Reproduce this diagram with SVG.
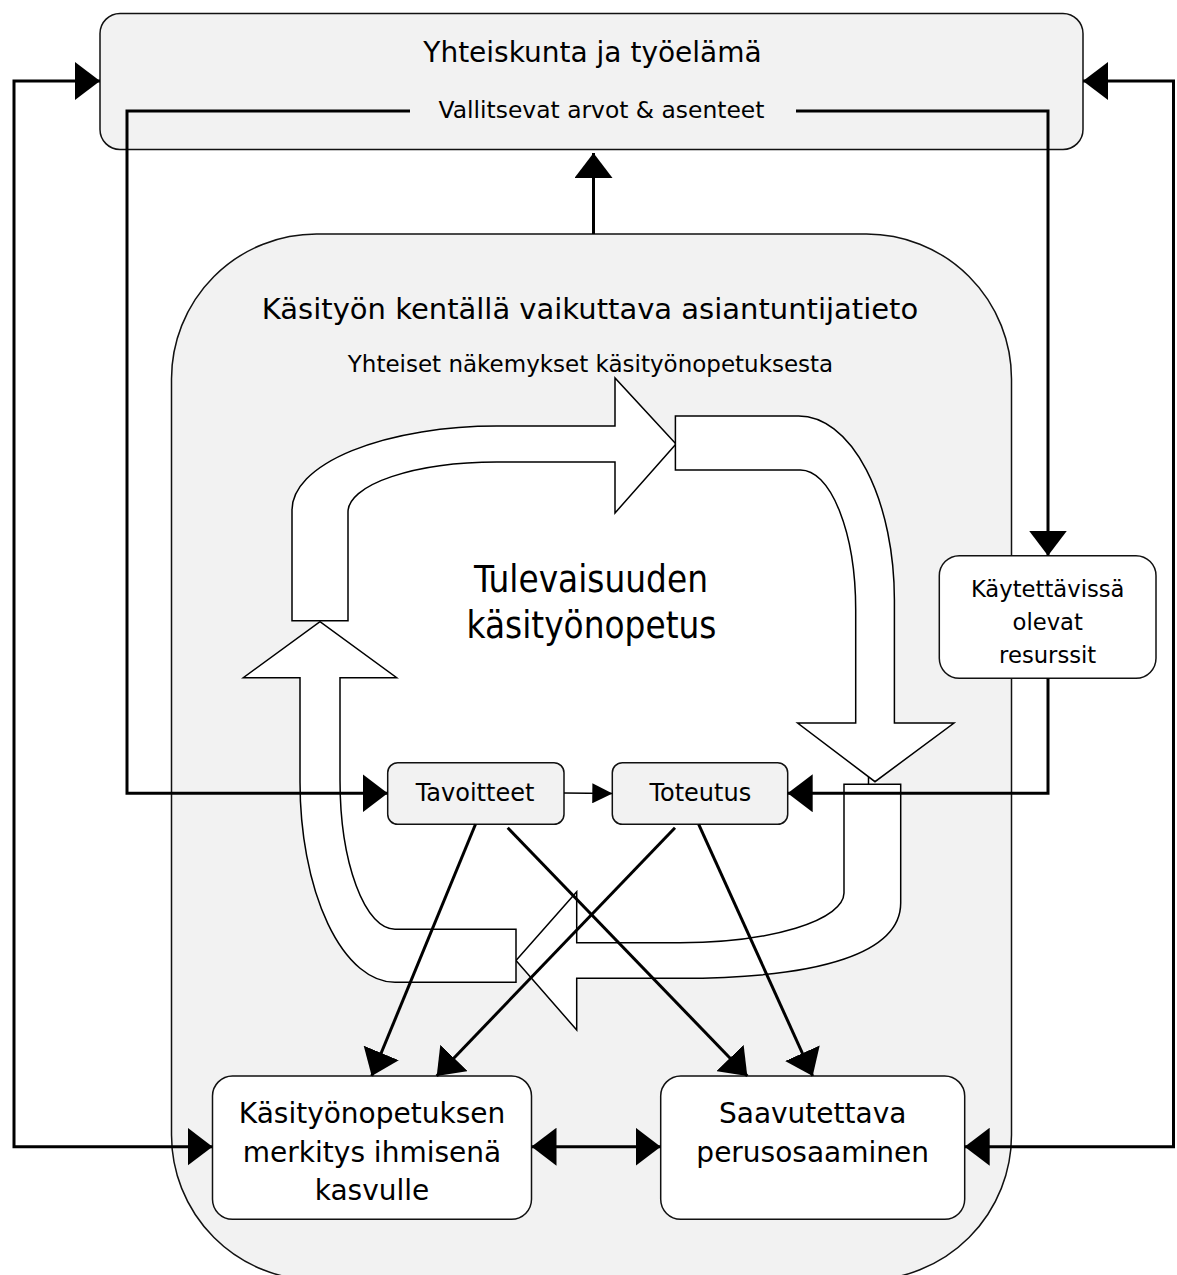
<svg xmlns="http://www.w3.org/2000/svg" width="1177" height="1275" viewBox="0 0 1177 1275">
<style>
text{font-family:"DejaVu Sans","Liberation Sans",sans-serif;fill:#000;text-anchor:middle}
.cond{font-family:"DejaVu Sans Condensed","DejaVu Sans",sans-serif;font-stretch:condensed}
.box{fill:#f2f2f2;stroke:#111;stroke-width:1.5}
.wbox{fill:#fff;stroke:#111;stroke-width:1.5}
.big{fill:#fff;stroke:#000;stroke-width:1.5;stroke-linejoin:miter}
.con{fill:none;stroke:#000;stroke-width:3}
.thin{fill:none;stroke:#000;stroke-width:1.5}
</style>
<defs>
<marker id="ah" viewBox="0 0 25 38" refX="25" refY="19" markerWidth="25" markerHeight="38" markerUnits="userSpaceOnUse" orient="auto-start-reverse">
<path d="M0,0 L25,19 L0,38 Z" fill="#000"/>
</marker>
<marker id="ahs" viewBox="0 0 20 20" refX="20" refY="10" markerWidth="20" markerHeight="20" markerUnits="userSpaceOnUse" orient="auto">
<path d="M0,0 L20,10 L0,20 Z" fill="#000"/>
</marker>
</defs>

<g id="yhteiskunta">
<rect class="box" x="100" y="13.5" width="983" height="136" rx="20" ry="20"/>
<text x="592.5" y="62" font-size="28">Yhteiskunta ja työelämä</text>
<text x="601.5" y="118" font-size="23.4">Vallitsevat arvot &amp; asenteet</text>
</g>

<g id="asiantuntijatieto">
<rect class="box" x="171.5" y="234" width="840" height="1046" rx="145" ry="145"/>
<text x="590" y="319" font-size="29">Käsityön kentällä vaikuttava asiantuntijatieto</text>
<text x="590.5" y="371.5" font-size="23">Yhteiset näkemykset käsityönopetuksesta</text>
</g>

<g id="tulevaisuus">
<path fill="#fff" d="M292,620.7 V510 A205,84 0 0 1 497,426 H615 L676,444 L675.4,416 H798.7 A95.7,184 0 0 1 894.4,600 V723 L875,781.7 L900.7,784.3 V903 C900.7,952 823.5,978.3 680,978.3 H576.7 L516,960.5 L516,982.3 H395 A95,200 0 0 1 300,782 V677.7 L320,621.7 Z"/>
<path class="big" d="M292,620.7 V510 A205,84 0 0 1 497,426 H615 V378 L676,444 L615,513 V462 H497 A149,50 0 0 0 348,512 V620.7 Z"/>
<path class="big" d="M675.4,416 H798.7 A95.7,184 0 0 1 894.4,600 V723 H954 L875,781.7 L797.6,723 H855.7 V610 A55.2,140 0 0 0 800.5,470 H675.4 Z"/>
<path class="big" d="M844,784.3 H900.7 V903 C900.7,952 823.5,978.3 680,978.3 H576.7 V1030 L516,960.5 L576.7,891.7 V942.7 H680 A164,50 0 0 0 844,893 V784.3 Z"/>
<path class="big" d="M516,929.3 H395 A55,149.3 0 0 1 340,780 V677.7 H396.7 L320,621.7 L243.3,677.7 H300 V782 A95,200.3 0 0 0 395,982.3 H516 Z"/>
<line class="thin" x1="868.5" y1="777" x2="868.5" y2="784.3"/>
<text class="cond" x="591" y="591.5" font-size="36.5">Tulevaisuuden</text>
<text class="cond" x="591.5" y="637.5" font-size="36.5">käsityönopetus</text>
</g>

<g id="tavoitteet">
<rect class="box" x="387.7" y="762.7" width="176.3" height="61.6" rx="10" ry="10"/>
<text x="475" y="800.7" font-size="24">Tavoitteet</text>
</g>

<g id="toteutus">
<rect class="box" x="612.3" y="762.7" width="175.4" height="61.6" rx="10" ry="10"/>
<text x="700.3" y="800.7" font-size="24">Toteutus</text>
</g>

<g id="resurssit">
<rect class="wbox" x="939.3" y="555.7" width="216.7" height="122.6" rx="20" ry="20"/>
<text x="1047.7" y="597.3" font-size="22.7">Käytettävissä</text>
<text x="1047.7" y="630" font-size="22.7">olevat</text>
<text x="1047.7" y="662.7" font-size="22.7">resurssit</text>
</g>

<g id="merkitys">
<rect class="wbox" x="212.5" y="1076" width="319" height="143.3" rx="20" ry="20"/>
<text x="372" y="1123.3" font-size="28">Käsityönopetuksen</text>
<text x="372" y="1161.7" font-size="28">merkitys ihmisenä</text>
<text x="372" y="1200" font-size="28">kasvulle</text>
</g>

<g id="perusosaaminen">
<rect class="wbox" x="660.7" y="1076" width="304" height="143.3" rx="20" ry="20"/>
<text x="812.7" y="1123.3" font-size="28">Saavutettava</text>
<text x="812.7" y="1161.7" font-size="28">perusosaaminen</text>
</g>

<g id="connectors">
<polyline class="con" points="410,111 127,111 127,793.3 387.7,793.3" marker-end="url(#ah)"/>
<polyline class="con" points="796,111 1048,111 1048,555.7" marker-end="url(#ah)"/>
<polyline class="con" points="1048,678.3 1048,793.3 787.7,793.3" marker-end="url(#ah)"/>
<line class="thin" x1="564" y1="793" x2="612.3" y2="793.5" marker-end="url(#ahs)"/>
<line class="con" x1="593.5" y1="234" x2="593.5" y2="153" marker-end="url(#ah)"/>
<polyline class="con" points="100,81 14,81 14,1146.7 212.5,1146.7" marker-start="url(#ah)" marker-end="url(#ah)"/>
<polyline class="con" points="1083,81 1173.5,81 1173.5,1146.7 964.7,1146.7" marker-start="url(#ah)" marker-end="url(#ah)"/>
<line class="con" x1="531.5" y1="1146.7" x2="660.7" y2="1146.7" marker-start="url(#ah)" marker-end="url(#ah)"/>
<line class="con" x1="475.5" y1="824.3" x2="371.7" y2="1076" marker-end="url(#ah)"/>
<line class="con" x1="675" y1="827.7" x2="436.7" y2="1076" marker-end="url(#ah)"/>
<line class="con" x1="507.7" y1="827.7" x2="747.3" y2="1076" marker-end="url(#ah)"/>
<line class="con" x1="698.7" y1="824.3" x2="812.7" y2="1076" marker-end="url(#ah)"/>
</g>
</svg>
